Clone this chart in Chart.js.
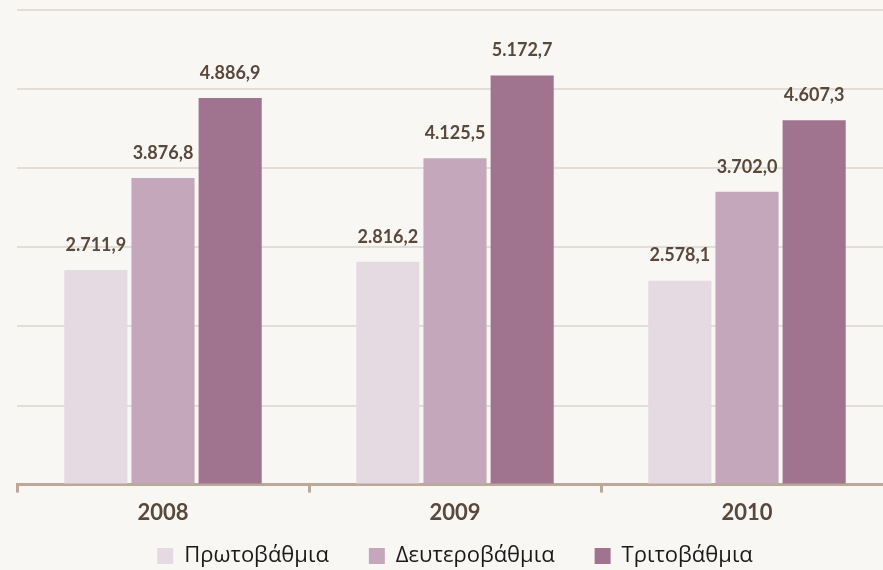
<!DOCTYPE html>
<html>
<head>
<meta charset="utf-8">
<script src="https://cdn.jsdelivr.net/npm/chart.js@4/dist/chart.umd.min.js"></script>
<style>
html,body{margin:0;padding:0;background:#f9f7f4;overflow:hidden;width:883px;height:570px;}
#wrap{width:900px;height:570px;}
</style>
</head>
<body>
<div id="wrap"><canvas id="c" width="900" height="570"></canvas></div>
<script>
const categories = ['2008', '2009', '2010'];
const seriesNames = ['Πρωτοβάθμια', 'Δευτεροβάθμια', 'Τριτοβάθμια'];
const primary = [2711.9, 2816.2, 2578.1];
const secondary = [3876.8, 4125.5, 3702.0];
const tertiary = [4886.9, 5172.7, 4607.3];
const colors = ['#e5dae2', '#c5a7bc', '#a0738f'];

function fmt(v) {
  const s = v.toFixed(1);
  const [i, d] = s.split('.');
  return i.replace(/\B(?=(\d{3})+(?!\d))/g, '.') + ',' + d;
}

const labelPlugin = {
  id: 'valueLabels',
  afterDatasetsDraw(chart) {
    const ctx = chart.ctx;
    ctx.save();
    ctx.font = 'bold 18px Lato';
    ctx.fillStyle = '#59483c';
    ctx.textAlign = 'center';
    ctx.textBaseline = 'middle';
    chart.data.datasets.forEach((ds, i) => {
      const meta = chart.getDatasetMeta(i);
      meta.data.forEach((el, j) => {
        ctx.fillText(fmt(ds.data[j]), el.x, el.y - 25);
      });
    });
    ctx.restore();
  }
};

const bg = {
  id: 'bg',
  beforeDraw(chart) {
    const ctx = chart.ctx;
    ctx.save();
    ctx.fillStyle = '#f9f7f4';
    ctx.fillRect(0, 0, chart.width, chart.height);
    ctx.restore();
  }
};

const legendShift = {
  id: 'legendShift',
  afterLayout(chart) {
    const lg = chart.legend;
    if (lg) { lg.top -= 28; lg.bottom = chart.height; }
  }
};

new Chart(document.getElementById('c'), {
  type: 'bar',
  data: {
    labels: categories,
    datasets: [
      { label: seriesNames[0], data: primary, backgroundColor: colors[0] },
      { label: seriesNames[1], data: secondary, backgroundColor: colors[1] },
      { label: seriesNames[2], data: tertiary, backgroundColor: colors[2] }
    ]
  },
  options: {
    responsive: false,
    animation: false,
    categoryPercentage: 0.69,
    barPercentage: 0.94,
    layout: { padding: { left: 17, right: 7, top: 10, bottom: 0 } },
    plugins: {
      legend: {
        position: 'bottom',
        maxHeight: 37,
        labels: {
          font: { family: '"Open Sans"', size: 22 },
          color: '#1a1a1a',
          boxWidth: 16,
          boxHeight: 16,
          padding: 40
        }
      },
      tooltip: { enabled: false }
    },
    scales: {
      y: {
        min: 0, max: 6000,
        ticks: { display: false, stepSize: 1000 },
        border: { display: false },
        grid: { color: '#e4ddd6', lineWidth: 2, drawTicks: false }
      },
      x: {
        border: { display: true, color: '#baa89b', width: 3 },
        grid: { display: true, offset: true, drawOnChartArea: false, drawTicks: true, tickLength: 8, color: '#baa89b', lineWidth: 3 },
        ticks: { font: { family: 'Lato', size: 22, weight: 'bold' }, color: '#59483c', padding: 7 }
      }
    }
  },
  plugins: [bg, labelPlugin, legendShift]
});
</script>
</body>
</html>
